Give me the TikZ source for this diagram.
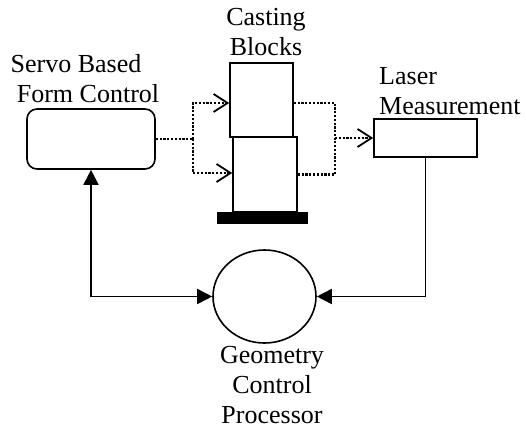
\documentclass[tikz,border=0pt]{standalone}
\usepackage{fontspec}
\setmainfont{Liberation Serif}
\usetikzlibrary{arrows.meta,shapes.geometric,positioning,calc}

\begin{document}
\begin{tikzpicture}[x=1pt,y=-1pt,
  part/.style={draw, line width=1.6pt, inner sep=0pt},
  lbl/.style={font=\fontsize{26}{30}\selectfont, align=center, inner sep=0pt},
  sig/.style={line width=1.6pt, -{Triangle[length=15pt,width=15pt]}},
  dots/.style={line width=2.6pt, dash pattern=on 2.2pt off 1.6pt},
  feed/.style={dots, -{Straight Barb[length=14pt,width=18pt,line width=1.8pt]}}]
\useasboundingbox (0,0) rectangle (526,428);
% Boxes
\node[part, rounded corners=10pt, minimum width=128pt, minimum height=60pt] (servo) at (91,139) {};
\node[part, minimum width=63pt, minimum height=74pt] (top) at (261.5,100) {};
\node[part, minimum width=64pt, minimum height=75pt] (bot) at (265,174.5) {};
\node[draw, fill=black, minimum width=90pt, minimum height=11pt, inner sep=0pt] (base) at (262,217.5) {};
\node[part, minimum width=103pt, minimum height=38pt] (laser) at (425.5,138) {};
\node[part, ellipse, minimum width=103pt, minimum height=93pt] (gcp) at (264.5,296.5) {};
% Labels
\node[lbl] (servolbl) at (88,79) {Servo Based\hspace*{24pt}\\Form Control};
\node[lbl] (castlbl) at (266,32) {Casting\\Blocks};
\node[lbl, align=left, anchor=west] (laserlbl) at (379,91) {Laser\\Measurement};
\node[lbl] (gcplbl) at (272,385) {Geometry\\Control\\Processor};
% Dotted feed lines
\coordinate (fork) at (193,139);
\coordinate (join) at (335,138);
\draw[dots] (servo.east) -- (fork);
\draw[feed] (fork) |- ($(top.west)+(0,3)$);
\draw[feed] (fork) |- ($(bot.west)+(0,-1.5)$);
\draw[dots] ($(top.east)+(0,3)$) -| (join);
\draw[dots] (bot.east) -| (join);
\draw[feed] (join) -- (laser.west);
% Control loop
\draw[sig, {Triangle[length=15pt,width=15pt]}-{Triangle[length=15pt,width=15pt]}] (servo.south) |- (gcp.west);
\draw[sig] (laser.south) |- (gcp.east);
\end{tikzpicture}
\end{document}
